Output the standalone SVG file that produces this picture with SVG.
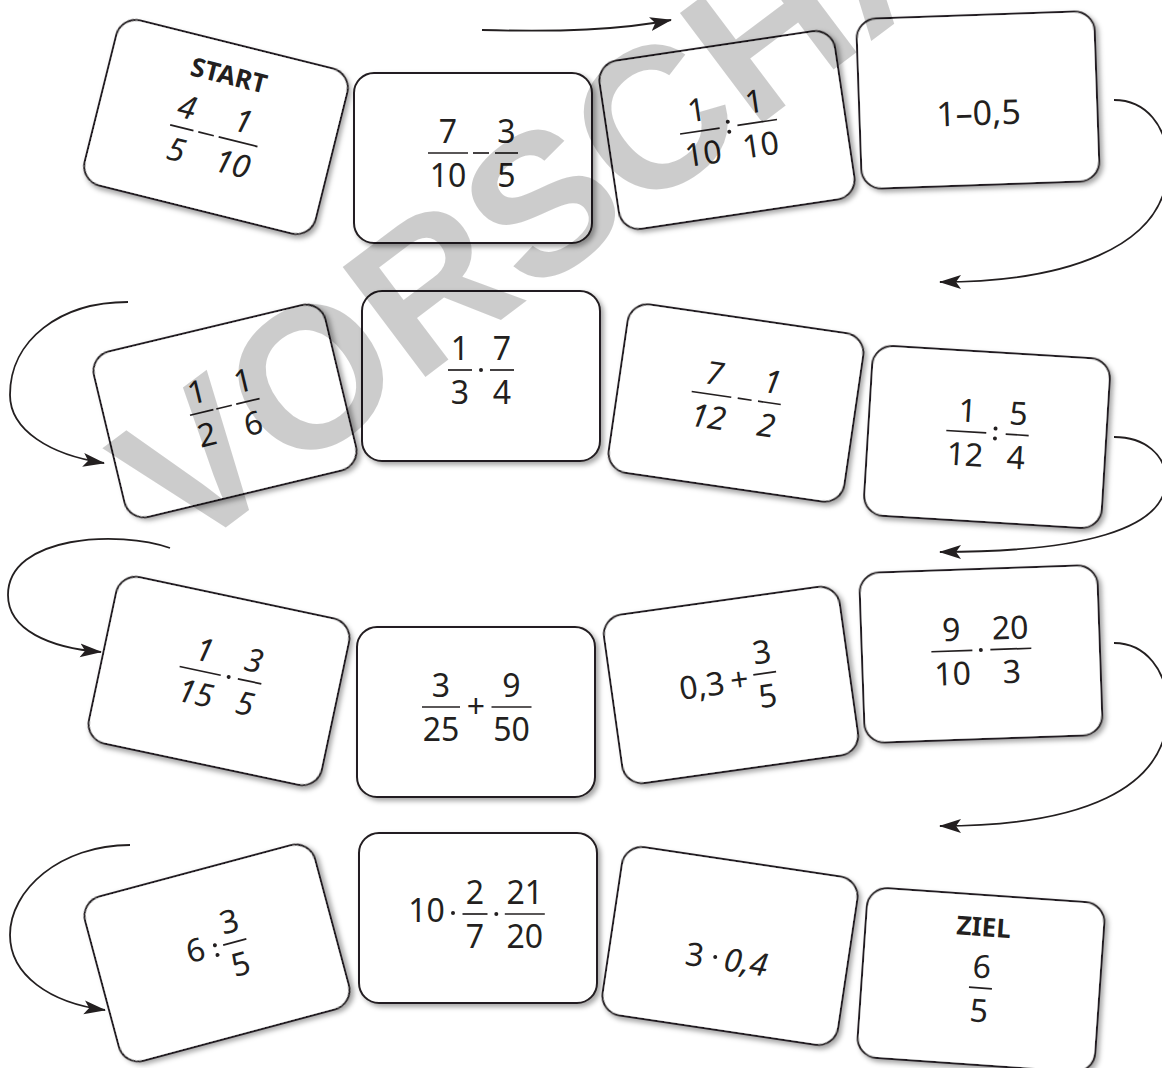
<svg xmlns="http://www.w3.org/2000/svg" width="1162" height="1068" viewBox="0 0 1162 1068">
<style>
.t{font-family:"Noto Sans","Open Sans",sans-serif;font-size:32px;fill:#231f20;text-anchor:middle}
.big{font-size:34px}
.it{font-style:italic}
.lbl{font-family:"Noto Sans","Open Sans",sans-serif;font-weight:bold;font-size:26px;fill:#231f20;text-anchor:middle}
.bar{stroke:#231f20;stroke-width:1.7}
.dot{fill:#231f20}
.card rect{fill:#fff;stroke:#231f20;stroke-width:2;filter:url(#sh)}
.conn path{fill:none;stroke:#231f20;stroke-width:1.8;marker-end:url(#ah)}
.wm{font-family:"Liberation Sans",Arial,sans-serif;font-weight:bold;font-size:200px;fill:#000;fill-opacity:0.2}
</style>
<defs>
<filter id="sh" x="-10%" y="-10%" width="125%" height="125%">
<feDropShadow dx="3" dy="3" stdDeviation="2.5" flood-color="#000" flood-opacity="0.35"/>
</filter>
<marker id="ah" markerUnits="userSpaceOnUse" markerWidth="24" markerHeight="16" refX="21" refY="8" orient="auto">
<path d="M0,1 L22,8 L0,15 L5,8 Z" fill="#231f20"/>
</marker>
</defs>
<rect width="1162" height="1068" fill="#fff"/>

<g class="conn">
<path d="M482 30 C560 32 620 30 671 20"/>
<path d="M1114 100 C1145 100 1168 125 1168 165 C1168 250 1060 282 940 282"/>
<path d="M128 302 C60 302 10 340 10 395 C10 430 50 455 104 463"/>
<path d="M1114 437 C1145 437 1166 455 1166 480 C1166 530 1080 552 940 552"/>
<path d="M170 548 C120 530 8 535 8 595 C8 630 50 648 101 652"/>
<path d="M1114 643 C1145 643 1168 670 1168 710 C1168 790 1080 826 940 826"/>
<path d="M130 845 C60 845 10 890 10 935 C10 975 50 1003 105 1010"/>
</g>

<g id="card1" class="card" transform="translate(216,127) rotate(14)">
<rect x="-119" y="-85" width="238" height="170" rx="20"/>
<text class="lbl" x="0" y="-44">START</text>
<text class="t it" x="-33" y="-1">4</text><line class="bar" x1="-45" y1="9" x2="-21" y2="9"/><text class="t it" x="-33" y="43">5</text>
<line class="bar" x1="-16" y1="9" x2="0" y2="9"/>
<text class="t it" x="25" y="-1">1</text><line class="bar" x1="5" y1="9" x2="45" y2="9"/><text class="t it" x="25" y="43">10</text>
</g>

<g id="card2" class="card" transform="translate(473,158)">
<rect x="-119" y="-85" width="238" height="170" rx="20"/>
<text class="t" x="-25" y="-15">7</text><line class="bar" x1="-45" y1="-5" x2="-5" y2="-5"/><text class="t" x="-25" y="29">10</text>
<line class="bar" x1="0" y1="-5" x2="16" y2="-5"/>
<text class="t" x="33.5" y="-15">3</text><line class="bar" x1="22" y1="-5" x2="45" y2="-5"/><text class="t" x="33.5" y="29">5</text>
</g>

<g id="card3" class="card" transform="translate(727,130) rotate(-8.5)">
<rect x="-119" y="-85" width="238" height="170" rx="20"/>
<text class="t" x="-27" y="-13">1</text><line class="bar" x1="-47" y1="-3" x2="-7" y2="-3"/><text class="t" x="-27" y="31">10</text>
<circle class="dot" cx="2" cy="-8" r="2"/><circle class="dot" cx="2" cy="2" r="2"/>
<text class="t" x="31" y="-13">1</text><line class="bar" x1="11" y1="-3" x2="51" y2="-3"/><text class="t" x="31" y="31">10</text>
</g>

<g id="card4" class="card" transform="translate(978,100) rotate(-2)">
<rect x="-119" y="-85" width="238" height="170" rx="20"/>
<text class="t big" x="0" y="25">1–0,5</text>
</g>

<g id="card5" class="card" transform="translate(225,411) rotate(-13.5)">
<rect x="-119" y="-85" width="238" height="170" rx="20"/>
<text class="t" x="-23" y="-14">1</text><line class="bar" x1="-35" y1="-4" x2="-11" y2="-4"/><text class="t" x="-23" y="30">2</text>
<line class="bar" x1="-8" y1="-4" x2="8" y2="-4"/>
<text class="t" x="24.5" y="-14">1</text><line class="bar" x1="12.5" y1="-4" x2="36.5" y2="-4"/><text class="t" x="24.5" y="30">6</text>
</g>

<g id="card6" class="card" transform="translate(481,376)">
<rect x="-119" y="-85" width="238" height="170" rx="20"/>
<text class="t" x="-21" y="-16">1</text><line class="bar" x1="-33" y1="-6" x2="-9" y2="-6"/><text class="t" x="-21" y="28">3</text>
<circle class="dot" cx="0" cy="-6" r="2"/>
<text class="t" x="21" y="-16">7</text><line class="bar" x1="9" y1="-6" x2="33" y2="-6"/><text class="t" x="21" y="28">4</text>
</g>

<g id="card7" class="card" transform="translate(736,403) rotate(8.3)">
<rect x="-119" y="-85" width="238" height="170" rx="20"/>
<text class="t it" x="-25.5" y="-15">7</text><line class="bar" x1="-45.5" y1="-5" x2="-5.5" y2="-5"/><text class="t it" x="-25.5" y="29">12</text>
<line class="bar" x1="1" y1="-5" x2="15" y2="-5"/>
<text class="t it" x="33" y="-15">1</text><line class="bar" x1="21.5" y1="-5" x2="44.5" y2="-5"/><text class="t it" x="33" y="29">2</text>
</g>

<g id="card8" class="card" transform="translate(987,437) rotate(3.5)">
<rect x="-119" y="-85" width="238" height="170" rx="20"/>
<text class="t" x="-21" y="-14">1</text><line class="bar" x1="-41" y1="-4" x2="-1" y2="-4"/><text class="t" x="-21" y="30">12</text>
<circle class="dot" cx="8" cy="-9" r="2"/><circle class="dot" cx="8" cy="1" r="2"/>
<text class="t" x="30" y="-14">5</text><line class="bar" x1="18.5" y1="-4" x2="41.5" y2="-4"/><text class="t" x="30" y="30">4</text>
</g>

<g id="card9" class="card" transform="translate(219,681) rotate(12)">
<rect x="-119" y="-85" width="238" height="170" rx="20"/>
<text class="t it" x="-20.5" y="-16">1</text><line class="bar" x1="-41.5" y1="-6" x2="0.5" y2="-6"/><text class="t it" x="-20.5" y="28">15</text>
<circle class="dot" cx="8.6" cy="-6" r="2"/>
<text class="t it" x="30" y="-16">3</text><line class="bar" x1="18" y1="-6" x2="42" y2="-6"/><text class="t it" x="30" y="28">5</text>
</g>

<g id="card10" class="card" transform="translate(476,712)">
<rect x="-119" y="-85" width="238" height="170" rx="20"/>
<text class="t" x="-35" y="-15">3</text><line class="bar" x1="-54" y1="-5" x2="-16" y2="-5"/><text class="t" x="-35" y="29">25</text>
<text class="t" x="0" y="6">+</text>
<text class="t" x="35.5" y="-15">9</text><line class="bar" x1="15.5" y1="-5" x2="55.5" y2="-5"/><text class="t" x="35.5" y="29">50</text>
</g>

<g id="card11" class="card" transform="translate(731,685) rotate(-8)">
<rect x="-119" y="-85" width="238" height="170" rx="20"/>
<text class="t" x="-29" y="8">0,3</text>
<text class="t" x="9" y="7">+</text>
<text class="t" x="35" y="-17">3</text><line class="bar" x1="23.5" y1="-7" x2="46.5" y2="-7"/><text class="t" x="35" y="27">5</text>
</g>

<g id="card12" class="card" transform="translate(981,654) rotate(-2)">
<rect x="-119" y="-85" width="238" height="170" rx="20"/>
<text class="t" x="-29" y="-14">9</text><line class="bar" x1="-49.5" y1="-4" x2="-8.5" y2="-4"/><text class="t" x="-29" y="30">10</text>
<circle class="dot" cx="0" cy="-4" r="2"/>
<text class="t" x="30" y="-14">20</text><line class="bar" x1="9.5" y1="-4" x2="50.5" y2="-4"/><text class="t" x="30" y="30">3</text>
</g>

<g id="card13" class="card" transform="translate(217,953) rotate(-15)">
<rect x="-119" y="-85" width="238" height="170" rx="20"/>
<text class="t" x="-20" y="3">6</text>
<circle class="dot" cx="0" cy="-8" r="2"/><circle class="dot" cx="0" cy="2" r="2"/>
<text class="t" x="20" y="-16">3</text><line class="bar" x1="8" y1="-6" x2="32" y2="-6"/><text class="t" x="20" y="28">5</text>
</g>

<g id="card14" class="card" transform="translate(478,918)">
<rect x="-119" y="-85" width="238" height="170" rx="20"/>
<text class="t" x="-51.5" y="4">10</text>
<circle class="dot" cx="-25" cy="-5" r="2"/>
<text class="t" x="-3" y="-14">2</text><line class="bar" x1="-15.5" y1="-4" x2="9.5" y2="-4"/><text class="t" x="-3" y="30">7</text>
<circle class="dot" cx="18.3" cy="-4" r="2"/>
<text class="t" x="46.8" y="-14">21</text><line class="bar" x1="26.8" y1="-4" x2="66.8" y2="-4"/><text class="t" x="46.8" y="30">20</text>
</g>

<g id="card15" class="card" transform="translate(730,946) rotate(8.5)">
<rect x="-119" y="-85" width="238" height="170" rx="20"/>
<text class="t" x="-33.7" y="25">3</text>
<circle class="dot" cx="-13" cy="13" r="2"/>
<text class="t it" x="18" y="25">0,4</text>
</g>

<g id="card16" class="card" transform="translate(981,980) rotate(4)">
<rect x="-119" y="-85" width="238" height="170" rx="20"/>
<text class="lbl" x="-1" y="-44">ZIEL</text>
<text class="t" x="0" y="-2">6</text><line class="bar" x1="-11.5" y1="8" x2="11.5" y2="8"/><text class="t" x="0" y="42">5</text>
</g>

<text class="wm" transform="translate(184,559) rotate(-37)">VORSCHAU</text>
</svg>
